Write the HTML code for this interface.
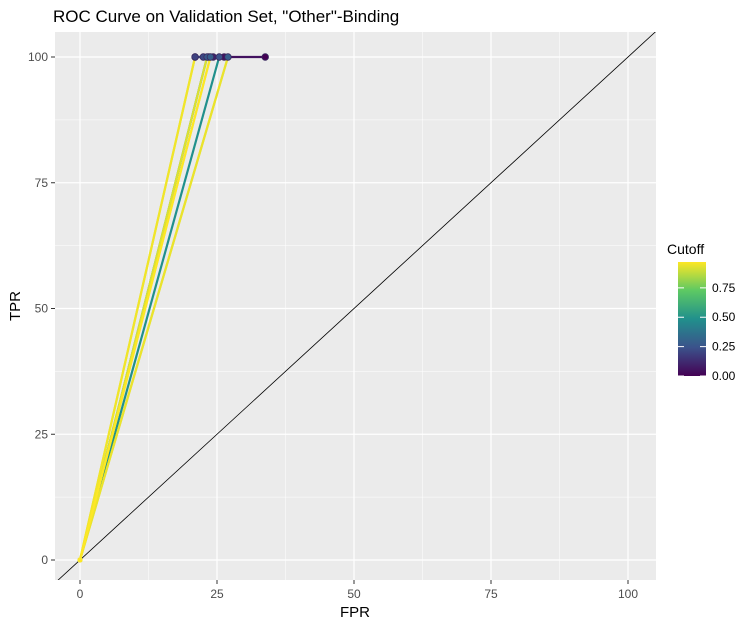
<!DOCTYPE html>
<html><head><meta charset="utf-8"><style>
body{margin:0;background:#fff;font-family:"Liberation Sans",sans-serif;}
</style></head><body>
<svg id="c" width="746" height="630" xmlns="http://www.w3.org/2000/svg" font-family="Liberation Sans, sans-serif">
<defs><linearGradient id="vir" x1="0" y1="1" x2="0" y2="0">
<stop offset="0" stop-color="#440154"/><stop offset="0.25" stop-color="#3b528b"/><stop offset="0.5" stop-color="#21908c"/><stop offset="0.75" stop-color="#5dc963"/><stop offset="1" stop-color="#fde725"/></linearGradient></defs>
<text x="53" y="22" font-size="17" fill="#000">ROC Curve on Validation Set, "Other"-Binding</text>
<rect x="55" y="32" width="601" height="548" fill="#ebebeb"/>
<g id="grid"></g><g id="marks"></g><g id="axes"></g>
<text x="355" y="617" font-size="15" text-anchor="middle">FPR</text>
<text x="0" y="0" font-size="15" text-anchor="middle" transform="translate(20,306) rotate(-90)">TPR</text>
<text x="667" y="254" font-size="14">Cutoff</text>
<rect x="678" y="262" width="28" height="114" fill="url(#vir)"/>
<g id="legend"></g>
</svg>
<script>
const fpr=[33.8,26.3,24.3,23.5,21.0,22.5,25.4,0,23.2,0,27.0,0,21.0,0,23.8,0];
const tpr=[100,100,100,100,100,100,100,0,100,0,100,0,100,0,100,0];
const cutoff=[0.0,0.05,0.1,0.15,0.2,0.22,0.25,0.5,0.28,0.95,0.3,0.97,0.2,0.98,0.3,1.0];
const xTicks=[0,25,50,75,100];
const yTicks=[0,25,50,75,100];
const legendTicks=[0,0.25,0.5,0.75];
const xs=v=>80+v*5.48, ys=v=>560-v*5.03;
const NS="http://www.w3.org/2000/svg";
function mk(p,t,a){const e=document.createElementNS(NS,t);for(const k in a)e.setAttribute(k,a[k]);p.appendChild(e);return e;}
const stops=[[68,1,84],[59,82,139],[33,144,140],[93,201,99],[253,231,37]];
function vir(c){c=Math.max(0,Math.min(1,c));const f=c*4,i=Math.min(3,Math.floor(f)),t=f-i,a=stops[i],b=stops[i+1];return`rgb(${a.map((v,j)=>Math.round(v+(b[j]-v)*t)).join(',')})`;}
const g=document.getElementById('grid'),m=document.getElementById('marks'),ax=document.getElementById('axes'),lg=document.getElementById('legend');
xTicks.forEach((t,i)=>{
 let l=mk(g,'line',{x1:xs(t),x2:xs(t),y1:32,y2:580,stroke:'#fff','stroke-width':1.2});
 
 if(i<xTicks.length-1){let n=mk(g,'line',{x1:xs(t+12.5),x2:xs(t+12.5),y1:32,y2:580,stroke:'#fff','stroke-width':0.5});}
 mk(ax,'line',{x1:xs(t),x2:xs(t),y1:580,y2:584,stroke:'#333'});
 let tx=mk(ax,'text',{x:xs(t),y:598,'font-size':12,'text-anchor':'middle',fill:'#4d4d4d'});tx.textContent=t;
 
});
yTicks.forEach((t,i)=>{
 let l=mk(g,'line',{x1:55,x2:656,y1:ys(t),y2:ys(t),stroke:'#fff','stroke-width':1.2});
 
 if(i<yTicks.length-1){let n=mk(g,'line',{x1:55,x2:656,y1:ys(t+12.5),y2:ys(t+12.5),stroke:'#fff','stroke-width':0.5});}
 mk(ax,'line',{x1:51,x2:55,y1:ys(t),y2:ys(t),stroke:'#333'});
 let tx=mk(ax,'text',{x:48,y:ys(t)+4,'font-size':12,'text-anchor':'end',fill:'#4d4d4d'});tx.textContent=t;
 
});
const cp=mk(m,'clipPath',{id:'cl'});mk(cp,'rect',{x:55,y:32,width:601,height:548});
let d=mk(m,'line',{x1:55,y1:ys((55-80)/5.48),x2:656,y2:ys((656-80)/5.48),stroke:'#000','stroke-width':0.8,'clip-path':'url(#cl)'});

for(let i=0;i<fpr.length-1;i++){
 let s=mk(m,'line',{x1:xs(fpr[i]),y1:ys(tpr[i]),x2:xs(fpr[i+1]),y2:ys(tpr[i+1]),stroke:vir(Math.max(cutoff[i],cutoff[i+1])),'stroke-width':2.2});
 
}
for(let i=0;i<fpr.length;i++){
 let p=mk(m,'circle',{cx:xs(fpr[i]),cy:ys(tpr[i]),r:tpr[i]>0?3.3:2.5,fill:vir(cutoff[i]),stroke:tpr[i]>0?'#3a2a60':'none','stroke-width':0.8});
 
}
legendTicks.forEach(t=>{
 const y=376-t*114/0.97;
 mk(lg,'line',{x1:678,x2:684,y1:y,y2:y,stroke:'#fff'});mk(lg,'line',{x1:700,x2:706,y1:y,y2:y,stroke:'#fff'});
 let tx=mk(lg,'text',{x:712,y:y+4,'font-size':12,fill:'#000'});tx.textContent=t.toFixed(2);
 
});
</script>
</body></html>
